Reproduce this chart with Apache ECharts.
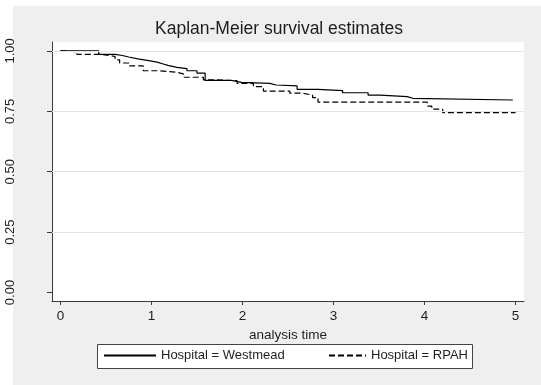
<!DOCTYPE html>
<html>
<head>
<meta charset="utf-8">
<script src="https://cdn.jsdelivr.net/npm/echarts@6/dist/echarts.min.js"></script>
<style>
  html, body { margin: 0; padding: 0; background: #fff; }
  #chart { width: 541px; height: 385px; }
</style>
</head>
<body>
<div id="chart"></div>
<script>
// Kaplan-Meier step estimates: [analysis time, survival probability after the step]
const westmeadTimes = [0, 0.42, 0.60, 0.68, 0.75, 0.85, 0.97, 1.06, 1.13, 1.18, 1.28, 1.39, 1.50, 1.59, 1.88, 1.99, 2.30, 2.37, 2.60, 2.83, 3.10, 3.38, 3.51, 3.81, 3.87, 4.97];
const westmeadSurv  = [1.000, 0.986, 0.981, 0.975, 0.967, 0.960, 0.954, 0.946, 0.940, 0.932, 0.927, 0.918, 0.908, 0.878, 0.870, 0.866, 0.859, 0.855, 0.841, 0.836, 0.827, 0.817, 0.811, 0.804, 0.797, 0.797];

const rpahTimes = [0, 0.03, 0.18, 0.43, 0.51, 0.60, 0.65, 0.76, 0.91, 1.09, 1.28, 1.35, 1.57, 1.72, 1.94, 2.12, 2.23, 2.52, 2.66, 2.77, 2.83, 4.03, 4.08, 4.20, 5.00];
const rpahSurv  = [1.000, 0.997, 0.986, 0.983, 0.977, 0.963, 0.950, 0.938, 0.918, 0.912, 0.905, 0.891, 0.880, 0.877, 0.866, 0.852, 0.834, 0.825, 0.817, 0.807, 0.788, 0.772, 0.759, 0.745, 0.745];

const timeTicks = [0, 1, 2, 3, 4, 5];
const survivalTicks = [0, 0.25, 0.5, 0.75, 1];
const gridValues = [0.25, 0.5, 0.75, 1];

const seriesNames = ['Hospital = Westmead', 'Hospital = RPAH'];
const titleText = 'Kaplan-Meier survival estimates';
const xAxisTitle = 'analysis time';

const FONT = '"Liberation Sans", Arial, Helvetica, sans-serif';
const INK = '#1e1e1e';
const AXIS = '#3a3a3a';

const pairs = (xs, ys) => xs.map((x, i) => [x, ys[i]]);

const chart = echarts.init(document.getElementById('chart'), null, { renderer: 'canvas' });

const legendBase = {
  top: 349, padding: 0,
  itemHeight: 14,
  itemStyle: { opacity: 0 },
  textStyle: { fontFamily: FONT, fontSize: 13, color: INK },
  selectedMode: false
};

chart.setOption({
  animation: false,
  backgroundColor: '#ffffff',
  textStyle: { fontFamily: FONT },
  graphic: [
    // outer graph region
    { type: 'rect', z: -10, shape: { x: 13, y: 6, width: 528, height: 379 }, style: { fill: '#efefef' }, silent: true },
    // legend frame
    { type: 'rect', z: 1, shape: { x: 97.5, y: 344.5, width: 375, height: 24 }, style: { fill: '#ffffff', stroke: '#444', lineWidth: 1 }, silent: true }
  ],
  title: {
    text: titleText,
    left: 279,
    top: 20,
    textAlign: 'center',
    padding: 0,
    textStyle: { fontFamily: FONT, fontSize: 17.5, fontWeight: 'normal', color: INK }
  },
  legend: [
    Object.assign({}, legendBase, { data: [seriesNames[0]], left: 103, itemWidth: 52 }),
    Object.assign({}, legendBase, { data: [seriesNames[1]], left: 328, itemWidth: 37 })
  ],
  grid: {
    left: 52, top: 42, width: 472, height: 259,
    show: true, backgroundColor: '#ffffff', borderWidth: 0,
    containLabel: false
  },
  xAxis: {
    type: 'value',
    min: -0.093, max: 5.093,
    name: xAxisTitle,
    nameLocation: 'middle',
    nameGap: 20,
    nameTextStyle: { fontFamily: FONT, fontSize: 13.5, color: INK, verticalAlign: 'top' },
    axisLine: { show: true, onZero: false, lineStyle: { color: AXIS, width: 1 } },
    axisTick: { show: true, length: 4, customValues: timeTicks, lineStyle: { color: AXIS } },
    axisLabel: { customValues: timeTicks, margin: 8, fontSize: 13.5, color: INK, fontFamily: FONT, formatter: v => String(v) },
    splitLine: { show: false }
  },
  yAxis: {
    type: 'value',
    min: -0.035, max: 1.037,
    axisLine: { show: true, onZero: false, lineStyle: { color: AXIS, width: 1 } },
    axisTick: { show: true, length: 5, customValues: survivalTicks, lineStyle: { color: AXIS } },
    axisLabel: { customValues: survivalTicks, rotate: 90, margin: 35, fontSize: 13, color: INK, fontFamily: FONT, formatter: v => v.toFixed(2) },
    splitLine: { show: false }
  },
  series: [
    {
      name: '__grid',
      type: 'line',
      data: [],
      z: 1,
      silent: true,
      markLine: {
        silent: true,
        symbol: 'none',
        label: { show: false },
        lineStyle: { color: '#e4e4e4', width: 1, type: 'solid' },
        data: gridValues.map(v => ({ yAxis: v }))
      }
    },
    {
      name: seriesNames[0],
      type: 'line',
      step: 'end',
      z: 3,
      symbol: 'none',
      showSymbol: false,
      data: pairs(westmeadTimes, westmeadSurv),
      lineStyle: { color: '#000', width: 1.2, type: 'solid' },
      itemStyle: { color: '#000' }
    },
    {
      name: seriesNames[1],
      type: 'line',
      step: 'end',
      z: 3,
      symbol: 'none',
      showSymbol: false,
      data: pairs(rpahTimes, rpahSurv),
      lineStyle: { color: '#000', width: 1.2, type: [6, 3] },
      itemStyle: { color: '#000' }
    }
  ]
});
</script>
</body>
</html>
